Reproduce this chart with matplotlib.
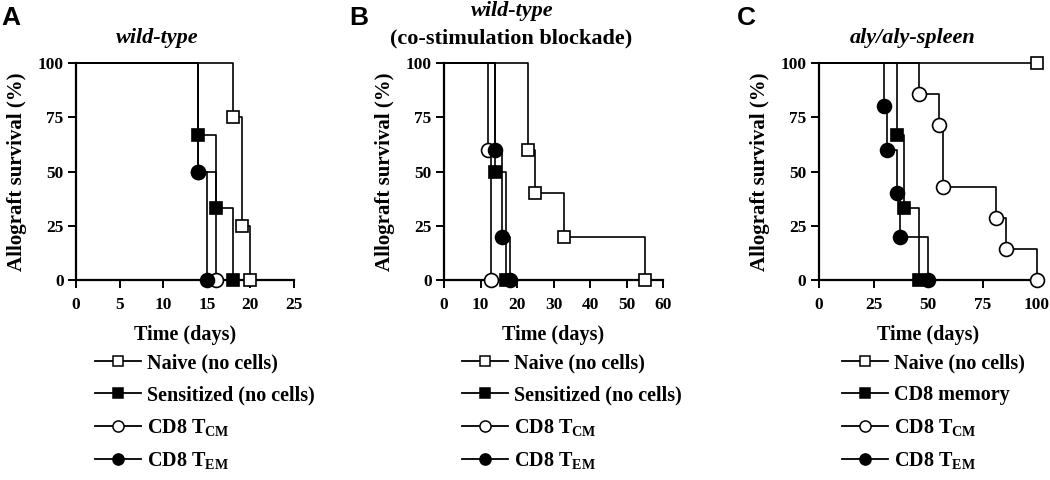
import matplotlib
matplotlib.use("Agg")
import matplotlib.pyplot as plt

plt.rcParams['font.family'] = ['Liberation Serif', 'DejaVu Serif']
plt.rcParams['font.weight'] = 'bold'
plt.rcParams['mathtext.fontset'] = 'custom'
plt.rcParams['mathtext.rm'] = 'Liberation Serif:bold'
plt.rcParams['mathtext.it'] = 'Liberation Serif:bold:italic'
plt.rcParams['mathtext.bf'] = 'Liberation Serif:bold'

# --- data: event times (days) and survival (%) after each event ---
# Panel A: wild-type
a_naive_t = [0, 18, 19, 20]
a_naive_s = [100, 75, 25, 0]
a_sens_t = [0, 14, 16, 18]
a_sens_s = [100, 66.7, 33.3, 0]
a_tcm_t = [0, 14, 16]
a_tcm_s = [100, 50, 0]
a_tem_t = [0, 14, 15]
a_tem_s = [100, 50, 0]

# Panel B: wild-type (co-stimulation blockade)
b_naive_t = [0, 23, 25, 33, 55]
b_naive_s = [100, 60, 40, 20, 0]
b_sens_t = [0, 14, 17]
b_sens_s = [100, 50, 0]
b_tcm_t = [0, 12, 13]
b_tcm_s = [100, 60, 0]
b_tem_t = [0, 14, 16, 18]
b_tem_s = [100, 60, 20, 0]

# Panel C: aly/aly-spleen
c_naive_t = [0, 100]
c_naive_s = [100, 100]
c_mem_t = [0, 36, 39, 46]
c_mem_s = [100, 66.7, 33.3, 0]
c_tcm_t = [0, 46, 55, 57, 81, 86, 100]
c_tcm_s = [100, 85.7, 71.4, 42.9, 28.6, 14.3, 0]
c_tem_t = [0, 30, 31, 36, 37, 50]
c_tem_s = [100, 80, 60, 40, 20, 0]

labels_ab = ['Naive (no cells)', 'Sensitized (no cells)',
             r'CD8 T$_\mathrm{CM}$', r'CD8 T$_\mathrm{EM}$']
labels_c = ['Naive (no cells)', 'CD8 memory',
            r'CD8 T$_\mathrm{CM}$', r'CD8 T$_\mathrm{EM}$']

styles = [
    dict(marker='s', mfc='white', ms=8.5),
    dict(marker='s', mfc='black', ms=8.5),
    dict(marker='o', mfc='white', ms=10),
    dict(marker='o', mfc='black', ms=10),
]


def km_panel(ax, series, labels, xmax, xstep):
    handles = []
    for (t, s), st, lab in zip(series, styles, labels):
        ax.step(t, s, where='post', color='black', lw=1.2, clip_on=False, zorder=3)
        ax.plot(t[1:], s[1:], ls='none', color='black', mec='black', mew=1.2,
                clip_on=False, zorder=4, **st)
        h, = ax.plot([], [], color='black', lw=1.3, mec='black', mew=1.1,
                     marker=st['marker'], mfc=st['mfc'], ms=st['ms'] * 0.8)
        handles.append(h)
    ax.set_xlim(0, xmax)
    ax.set_ylim(0, 100)
    ax.set_xticks(range(0, xmax + 1, xstep))
    ax.set_yticks([0, 25, 50, 75, 100])
    for side in ['top', 'right']:
        ax.spines[side].set_visible(False)
    for side in ['left', 'bottom']:
        ax.spines[side].set_linewidth(1.6)
    ax.tick_params(direction='out', length=6, width=1.4, labelsize=12.5, pad=3)
    ax.tick_params(axis='x', pad=6)
    for lbl in ax.get_xticklabels() + ax.get_yticklabels():
        lbl.set_fontweight('bold')
    ax.set_xlabel('Time (days)', fontsize=14.5, fontweight='bold', labelpad=9)
    ax.set_ylabel('Allograft survival (%)', fontsize=15, fontweight='bold')
    ax.yaxis.set_label_coords(-0.225, 0.5)
    return handles


fig = plt.figure(figsize=(10.5, 4.8), dpi=100)
W, H = 1050, 480


def axes_px(x0, x1, y0, y1):
    return fig.add_axes([x0 / W, 1 - y1 / H, (x1 - x0) / W, (y1 - y0) / H])


ax_a = axes_px(76, 294, 63, 280)
ax_b = axes_px(444, 663, 63, 280)
ax_c = axes_px(819, 1037, 63, 280)

h_a = km_panel(ax_a, [(a_naive_t, a_naive_s), (a_sens_t, a_sens_s),
                      (a_tcm_t, a_tcm_s), (a_tem_t, a_tem_s)], labels_ab, 25, 5)
h_b = km_panel(ax_b, [(b_naive_t, b_naive_s), (b_sens_t, b_sens_s),
                      (b_tcm_t, b_tcm_s), (b_tem_t, b_tem_s)], labels_ab, 60, 10)
h_c = km_panel(ax_c, [(c_naive_t, c_naive_s), (c_mem_t, c_mem_s),
                      (c_tcm_t, c_tcm_s), (c_tem_t, c_tem_s)], labels_c, 100, 25)

# legends below each panel
for h, labs, x0 in [(h_a, labels_ab, 95), (h_b, labels_ab, 462), (h_c, labels_c, 842)]:
    fig.legend(h, labs, loc='upper left', bbox_to_anchor=(x0 / W, 1 - 353 / H),
               frameon=False, handlelength=2.3, handletextpad=0.3,
               labelspacing=0.6, borderaxespad=0, borderpad=0,
               prop={'weight': 'bold', 'size': 14.5})

# titles
fig.text(157 / W, 1 - 38 / H, 'wild-type', ha='center', va='center',
         fontsize=16, fontweight='bold', fontstyle='italic')
fig.text(512 / W, 1 - 11 / H, 'wild-type', ha='center', va='center',
         fontsize=16, fontweight='bold', fontstyle='italic')
fig.text(511 / W, 1 - 38 / H, '(co-stimulation blockade)', ha='center', va='center',
         fontsize=16, fontweight='bold')
fig.text(913 / W, 1 - 38 / H, 'aly/aly-spleen', ha='center', va='center',
         fontsize=16, fontweight='bold', fontstyle='italic')

# panel letters
for letter, x in [('A', 11), ('B', 359), ('C', 746)]:
    fig.text(x / W, 1 - 18 / H, letter, ha='center', va='center',
             fontsize=19, fontweight='bold', family=['Liberation Sans', 'DejaVu Sans'])

fig.savefig('out.png', dpi=100)
